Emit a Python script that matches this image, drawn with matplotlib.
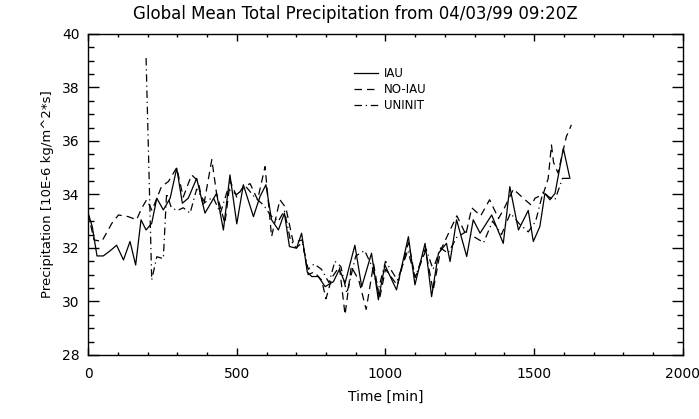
import matplotlib
matplotlib.use('Agg')
import matplotlib.pyplot as plt
from matplotlib.ticker import MultipleLocator

# values
t_iau = [0, 14, 30, 51, 75, 96, 119, 141, 160, 178, 195, 214, 231, 253, 276, 298,
         317, 337, 365, 393, 432, 455, 477, 500, 522, 556, 578, 598, 617, 640, 660,
         677, 701, 718, 737, 752, 774, 797, 825, 845, 864, 897, 920, 953, 976, 998,
         1037, 1077, 1099, 1133, 1155, 1178, 1205, 1217, 1239, 1273, 1295, 1318,
         1357, 1396, 1418, 1447, 1480, 1497, 1519, 1536, 1553, 1570, 1598, 1620]
iau = [33.3, 32.8, 31.7, 31.7, 31.9, 32.1, 31.55, 32.24, 31.36, 33.05, 32.67, 32.92,
       33.86, 33.42, 33.86, 34.98, 33.67, 33.86, 34.6, 33.3, 34.04, 32.67, 34.73, 32.9,
       34.36, 33.17, 33.92, 34.36, 33.05, 32.67, 33.3, 32.05, 31.99, 32.55, 31.1, 30.93,
       30.93, 30.55, 30.74, 31.2, 30.68, 32.1, 30.55, 31.8, 30.06, 31.36, 30.43, 32.42,
       30.62, 32.17, 30.18, 31.8, 32.17, 31.49, 33.05, 31.68, 33.05, 32.55, 33.23,
       32.17, 34.29, 32.67, 33.4, 32.24, 32.8, 34.04, 33.8, 34.04, 35.72, 34.6]

t_noiau = [0, 20, 46, 80, 102, 135, 163, 180, 197, 215, 247, 270, 298, 320, 348, 370,
           388, 416, 432, 460, 478, 500, 522, 545, 570, 595, 617, 645, 665, 690, 720,
           740, 760, 785, 800, 820, 845, 864, 885, 910, 935, 960, 980, 1000, 1040,
           1077, 1100, 1135, 1160, 1185, 1210, 1240, 1270, 1290, 1320, 1350, 1380,
           1400, 1430, 1463, 1490, 1503, 1530, 1547, 1558, 1565, 1580, 1608, 1625]
noiau = [33.3, 32.3, 32.24, 32.92, 33.23, 33.17, 33.05, 33.48, 33.8, 33.4, 34.3, 34.48,
         35.0, 33.9, 34.73, 34.5, 33.54, 35.3, 34.04, 32.92, 34.5, 33.9, 34.3, 34.4,
         33.8, 35.04, 32.42, 33.8, 33.5, 32.2, 32.3, 31.0, 31.1, 30.8, 30.1, 30.9, 31.3,
         29.5, 31.3, 30.8, 29.7, 31.4, 30.1, 31.2, 30.6, 32.2, 30.9, 31.9, 30.4, 31.9,
         32.5, 33.2, 32.5, 33.5, 33.2, 33.8, 33.1, 33.5, 34.2, 33.86, 33.6, 33.86, 34.0,
         34.6, 35.85, 35.2, 34.8, 36.16, 36.6]

t_uninit = [195, 214, 231, 253, 264, 280, 300, 320, 343, 365, 393, 420, 445, 470, 500,
            530, 560, 590, 615, 640, 660, 680, 700, 720, 740, 760, 785, 810, 830, 850,
            870, 900, 930, 955, 975, 1000, 1040, 1075, 1100, 1135, 1160, 1185, 1210,
            1240, 1270, 1300, 1330, 1360, 1390, 1420, 1450, 1480, 1505, 1530, 1550,
            1570, 1595, 1620]
uninit = [39.1, 30.8, 31.67, 31.6, 34.04, 33.5, 33.4, 33.5, 33.3, 34.2, 33.7, 33.9,
          33.3, 34.2, 34.0, 34.3, 33.9, 33.6, 33.2, 33.0, 33.4, 32.3, 32.0, 32.2, 31.2,
          31.4, 31.2, 30.7, 31.5, 31.3, 30.3, 31.7, 31.9, 31.3, 30.4, 31.5, 30.8, 31.9,
          30.9, 32.0, 31.2, 32.0, 31.8, 32.4, 32.6, 32.4, 32.2, 33.0, 32.5, 33.3, 32.9,
          32.6, 33.0, 34.1, 33.9, 33.8, 34.6, 34.6]

fig = plt.figure(figsize=(6.99, 4.19), dpi=100)
ax = fig.add_axes([0.126, 0.153, 0.851, 0.766])

ax.plot(t_iau, iau, color='black', lw=0.9, ls='-', label='IAU')
ax.plot(t_noiau, noiau, color='black', lw=0.9, ls=(0, (6, 4)), label='NO-IAU')
ax.plot(t_uninit, uninit, color='black', lw=0.9, ls=(0, (6, 3, 1, 3)), label='UNINIT')

ax.set_xlim(0, 2000)
ax.set_ylim(28, 40)
ax.xaxis.set_major_locator(MultipleLocator(500))
ax.xaxis.set_minor_locator(MultipleLocator(100))
ax.yaxis.set_major_locator(MultipleLocator(2))
ax.yaxis.set_minor_locator(MultipleLocator(0.5))
ax.tick_params(which='both', direction='in', top=True, right=True, labelsize=10,
               width=1, colors='black')
ax.tick_params(axis='x', which='major', length=5, pad=9)
ax.tick_params(axis='x', which='minor', length=2.5)
ax.tick_params(axis='y', which='major', length=8, pad=6)
ax.tick_params(axis='y', which='minor', length=4.3)
for spine in ax.spines.values():
    spine.set_linewidth(1)

ax.set_xlabel('Time [min]', fontsize=10, labelpad=6)
ax.set_ylabel('Precipitation [10E-6 kg/m^2*s]', fontsize=9.5, labelpad=6)
fig.text(355 / 699, 1 - 14 / 419, 'Global Mean Total Precipitation from 04/03/99 09:20Z',
         ha='center', va='center', fontsize=12)

ax.legend(loc='upper left', bbox_to_anchor=(0.43, 0.93), frameon=False, fontsize=8.5,
          handlelength=2.0, handletextpad=0.5, labelspacing=0.25)

fig.savefig('out.png', dpi=100)
